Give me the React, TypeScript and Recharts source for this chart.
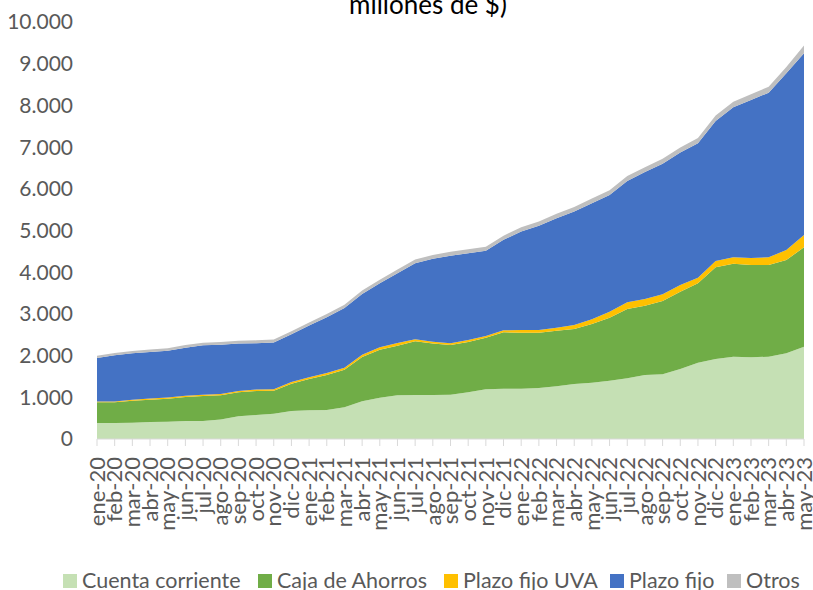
import React from "react";
import { AreaChart, Area, XAxis, YAxis } from "recharts";

const meses = [
  "ene-20", "feb-20", "mar-20", "abr-20", "may-20", "jun-20", "jul-20", "ago-20", "sep-20", "oct-20", "nov-20", "dic-20",
  "ene-21", "feb-21", "mar-21", "abr-21", "may-21", "jun-21", "jul-21", "ago-21", "sep-21", "oct-21", "nov-21", "dic-21",
  "ene-22", "feb-22", "mar-22", "abr-22", "may-22", "jun-22", "jul-22", "ago-22", "sep-22", "oct-22", "nov-22", "dic-22",
  "ene-23", "feb-23", "mar-23", "abr-23", "may-23",
];

const cuentaCorriente = [
  384, 386, 392, 405, 415, 430, 432, 465, 545, 575, 605, 670,
  688, 695, 760, 903, 990, 1047, 1055, 1055, 1060, 1119, 1191, 1207,
  1207, 1223, 1263, 1319, 1351, 1399, 1455, 1535, 1551, 1679, 1831, 1919,
  1974, 1958, 1974, 2054, 2214,
];

const cajaAhorros = [
  495, 493, 527, 538, 552, 577, 599, 582, 574, 576, 554, 657,
  751, 840, 903, 1063, 1152, 1191, 1287, 1235, 1194, 1207, 1239, 1351,
  1343, 1327, 1335, 1319, 1407, 1511, 1663, 1663, 1759, 1854, 1902, 2198,
  2231, 2215, 2199, 2239, 2383,
];

const plazoFijoUva = [
  20, 22, 25, 28, 30, 32, 33, 34, 35, 36, 37, 40,
  42, 45, 48, 55, 60, 62, 50, 40, 40, 48, 40, 48,
  64, 64, 72, 96, 112, 144, 160, 160, 160, 160, 136, 152,
  152, 168, 184, 240, 296,
];

const plazoFijo = [
  1043, 1105, 1110, 1115, 1121, 1151, 1182, 1181, 1136, 1111, 1118, 1143,
  1239, 1340, 1429, 1456, 1532, 1674, 1821, 1990, 2100, 2082, 2042, 2170,
  2362, 2498, 2626, 2722, 2786, 2799, 2912, 3042, 3128, 3177, 3222, 3357,
  3598, 3788, 3948, 4237, 4356,
];

const otros = [
  55, 55, 58, 60, 60, 62, 65, 65, 68, 68, 70, 72,
  75, 78, 80, 82, 85, 88, 90, 92, 95, 95, 98, 100,
  100, 102, 105, 108, 110, 112, 115, 118, 120, 122, 125, 130,
  135, 138, 142, 150, 190,
];

const yTicks = [0, 1000, 2000, 3000, 4000, 5000, 6000, 7000, 8000, 9000, 10000];

const series = [
  { key: "cc", name: "Cuenta corriente", color: "#C5E0B4", values: cuentaCorriente },
  { key: "ca", name: "Caja de Ahorros", color: "#70AD47", values: cajaAhorros },
  { key: "uva", name: "Plazo fijo UVA", color: "#FFC000", values: plazoFijoUva },
  { key: "pf", name: "Plazo fijo", color: "#4472C4", values: plazoFijo },
  { key: "otros", name: "Otros", color: "#BFBFBF", values: otros },
];

const data = meses.map((mes, i) => {
  const row: Record<string, string | number> = { mes };
  series.forEach((s) => {
    row[s.key] = s.values[i];
  });
  return row;
});

const FONT = "Lato, 'Open Sans', sans-serif";
const GRIS = "#595959";

const fmt = (v: number) => v.toLocaleString("de-DE");

const XTick = (props: any) => {
  const { x, y, payload } = props;
  return (
    <text
      x={x}
      y={y}
      transform={`rotate(-90, ${x}, ${y})`}
      textAnchor="end"
      dy="0.35em"
      fill={GRIS}
      fontSize={22}
      fontFamily={FONT}
    >
      {payload.value}
    </text>
  );
};

const legendX = [63, 258, 444, 610, 727];

export default function App() {
  return (
    <div style={{ position: "absolute", left: 0, top: 0, width: 813, height: 590, background: "#fff" }}>
      <AreaChart width={813} height={590} data={data} margin={{ top: 22, right: 9, left: 0, bottom: 0 }}>
        <XAxis
          dataKey="mes"
          interval={0}
          height={151}
          tick={<XTick />}
          tickSize={7}
          tickMargin={11}
          tickLine={{ stroke: "#D9D9D9" }}
          axisLine={{ stroke: "#D9D9D9" }}
        />
        <YAxis
          width={97}
          domain={[0, 10000]}
          ticks={yTicks}
          tickFormatter={fmt}
          axisLine={false}
          tickLine={false}
          tickSize={0}
          tickMargin={24}
          tick={{ fill: GRIS, fontSize: 21, fontFamily: FONT }}
        />
        {series.map((s) => (
          <Area
            key={s.key}
            type="linear"
            dataKey={s.key}
            name={s.name}
            stackId="1"
            stroke="none"
            fill={s.color}
            fillOpacity={1}
            isAnimationActive={false}
          />
        ))}
      </AreaChart>
      <svg width={813} height={590} style={{ position: "absolute", left: 0, top: 0, pointerEvents: "none" }}>
        <text x={428} y={14} textAnchor="middle" fontSize={26} fontWeight={400} fontFamily={FONT} fill="#000">
          millones de $)
        </text>
        {series.map((s, i) => (
          <g key={s.key}>
            <rect x={legendX[i]} y={574} width={14} height={14} fill={s.color} />
            <text x={legendX[i] + 19} y={588} fontSize={21.5} fontFamily={FONT} fill={GRIS}>
              {s.name}
            </text>
          </g>
        ))}
      </svg>
    </div>
  );
}
